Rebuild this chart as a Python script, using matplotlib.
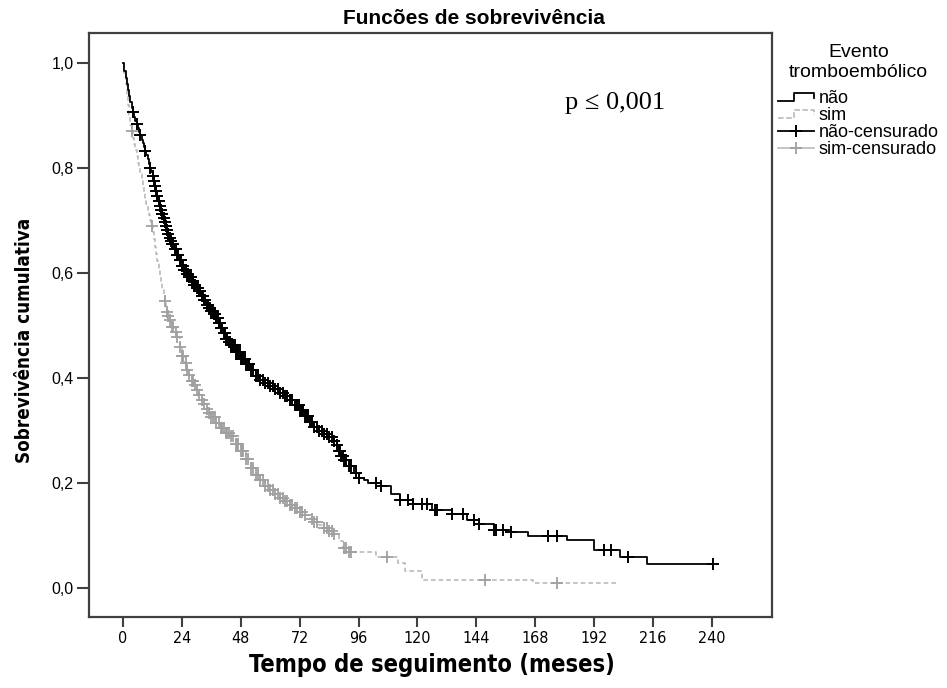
import numpy as np
import matplotlib
matplotlib.use("Agg")
import matplotlib.pyplot as plt
from matplotlib import font_manager as fm
from matplotlib.lines import Line2D
from matplotlib.legend_handler import HandlerBase

# curva "não" (tempo em meses, sobrevivência)
t_nao = [0, 0.5, 1, 1.5, 2, 2.5, 3, 3.5, 4, 4.5, 5, 5.5, 6, 6.5, 7, 7.5, 8,
         8.5, 9, 9.5, 10, 10.5, 11, 11.5, 12, 12.5, 13, 13.5, 14, 14.5, 15,
         15.5, 16, 16.5, 17, 17.5, 18, 18.5, 19, 19.5, 20, 21, 22, 23, 24, 25,
         26, 27, 28, 29, 30, 31, 32, 33, 34, 35, 36, 37, 38, 39, 40, 41, 42,
         43, 44, 46, 48, 50, 52, 54, 56, 58, 60, 62, 64, 66, 68, 70, 72, 74,
         76, 78, 80, 82, 84, 86, 87, 88, 89, 90, 92, 94, 96, 98, 100, 105, 109,
         113, 118, 126, 134, 140, 145, 151, 158, 165, 181, 192, 202.5, 213.4,
         240.5]
s_nao = [1.0, 0.985, 0.972, 0.96, 0.948, 0.937, 0.926, 0.915, 0.906, 0.898,
         0.89, 0.883, 0.876, 0.869, 0.862, 0.854, 0.847, 0.84, 0.832, 0.825,
         0.817, 0.808, 0.80, 0.792, 0.784, 0.775, 0.765, 0.756, 0.746, 0.737,
         0.728, 0.72, 0.712, 0.704, 0.697, 0.69, 0.682, 0.674, 0.666, 0.66,
         0.655, 0.645, 0.635, 0.625, 0.614, 0.606, 0.598, 0.592, 0.585, 0.578,
         0.572, 0.565, 0.557, 0.549, 0.540, 0.533, 0.527, 0.521, 0.514, 0.505,
         0.495, 0.485, 0.475, 0.468, 0.462, 0.450, 0.437, 0.426, 0.415, 0.404,
         0.397, 0.391, 0.385, 0.379, 0.372, 0.365, 0.358, 0.348, 0.339, 0.327,
         0.316, 0.307, 0.300, 0.294, 0.288, 0.280, 0.272, 0.262, 0.252, 0.243,
         0.232, 0.220, 0.210, 0.205, 0.200, 0.195, 0.180, 0.168, 0.160, 0.149,
         0.142, 0.130, 0.123, 0.110, 0.106, 0.100, 0.091, 0.072, 0.060, 0.045,
         0.045]

# curva "sim"
t_sim = [0, 0.5, 1, 1.5, 2, 2.5, 3, 3.5, 4, 4.5, 5, 5.5, 6, 6.5, 7, 7.5, 8,
         8.5, 9, 9.5, 10, 10.5, 11, 11.5, 12, 12.5, 13, 13.5, 14, 14.5, 15,
         15.5, 16, 16.5, 17, 17.5, 18, 18.5, 19, 19.5, 20, 21, 22, 23, 24, 25,
         26, 27, 28, 29, 30, 31, 32, 33, 34, 35, 36, 38, 40, 42, 44, 46, 48,
         50, 52, 54, 56, 58, 60, 62, 64, 66, 68, 70, 72, 74, 76, 78, 80, 82,
         84, 86, 88, 89.5, 92, 103, 112, 115, 122, 167, 201]
s_sim = [1.0, 0.98, 0.96, 0.94, 0.92, 0.90, 0.882, 0.87, 0.858, 0.846, 0.834,
         0.822, 0.81, 0.80, 0.788, 0.776, 0.765, 0.754, 0.742, 0.731, 0.72,
         0.71, 0.70, 0.69, 0.678, 0.664, 0.65, 0.636, 0.622, 0.61, 0.595,
         0.582, 0.57, 0.558, 0.546, 0.535, 0.525, 0.518, 0.511, 0.504, 0.497,
         0.488, 0.478, 0.46, 0.442, 0.428, 0.416, 0.405, 0.395, 0.386, 0.377,
         0.367, 0.358, 0.35, 0.342, 0.334, 0.325, 0.315, 0.305, 0.296, 0.29,
         0.275, 0.262, 0.245, 0.228, 0.215, 0.205, 0.195, 0.187, 0.18, 0.172,
         0.165, 0.158, 0.152, 0.145, 0.14, 0.132, 0.125, 0.12, 0.115, 0.108,
         0.103, 0.09, 0.076, 0.069, 0.060, 0.047, 0.033, 0.015, 0.009, 0.009]

# tempos censurados
c_nao = [4, 5.5, 7, 9, 11, 12, 12.5, 13, 13.5, 14, 14.5, 15, 15.5, 16, 16.5,
         17, 17.5, 18, 18.5, 19, 19.5, 20, 20.5, 21, 21.5, 22, 22.5, 23, 23.5,
         24, 24.5, 25, 25.5, 26, 26.5, 27, 27.5, 28, 28.5, 29, 29.5, 30, 30.5,
         31, 31.5, 32, 32.5, 33, 33.5, 34, 34.5, 35, 35.5, 36, 36.5, 37, 37.5,
         38, 38.5, 39, 39.5, 40, 40.5, 41, 41.5, 42, 42.5, 43, 43.5, 44, 44.5,
         45, 45.5, 46, 46.5, 47, 47.5, 48, 48.5, 49, 49.5, 50, 50.5, 51, 51.5,
         52, 53, 54, 55, 56, 57, 58, 59, 60, 61, 62, 63, 64, 65, 66, 67, 68,
         69, 70, 70.5, 71, 71.5, 72, 72.5, 73, 73.5, 74, 74.5, 75, 75.5, 76,
         76.5, 77, 78, 79, 80, 81, 82, 83, 84, 85, 86, 87, 88, 88.5, 89, 89.5,
         90, 90.5, 91, 92, 93, 95, 96, 103, 105, 113, 116, 118, 122, 124, 127,
         128, 134, 138.5, 143, 145, 151, 152, 155, 158, 173, 177, 196, 199,
         206, 240.5]
c_sim = [3.5, 11.7, 17, 18, 18.5, 19, 20, 20.5, 21.5, 22, 23, 24, 24.5, 25.5,
         26, 27, 28, 28.5, 29.5, 30, 31, 32, 33, 34, 35, 36, 36.5, 37.5, 38,
         39, 40, 40.5, 41, 42, 42.5, 43, 44, 45, 46, 46.5, 47, 48, 48.5, 49,
         50, 51, 52, 53, 54, 55, 56, 57, 58, 59, 60, 61, 62, 63, 64, 65, 66,
         67, 68, 69, 70, 71, 72, 73, 74, 77, 78, 79, 82, 83, 84, 85, 86, 90,
         91, 92, 93, 107.7, 147.5, 176.7]

x_ticks = [0, 24, 48, 72, 96, 120, 144, 168, 192, 216, 240]
y_ticks = [0.0, 0.2, 0.4, 0.6, 0.8, 1.0]

names = {f.name for f in fm.fontManager.ttflist}
if 'Liberation Sans Narrow' in names:
    narrow = dict(family='Liberation Sans Narrow')
else:
    narrow = dict(family='DejaVu Sans', fontstretch='condensed')
plt.rcParams['font.family'] = ['Liberation Sans', 'DejaVu Sans']


def step_at(t, s, c):
    t = np.asarray(t)
    s = np.asarray(s)
    idx = np.searchsorted(t, c, side='right') - 1
    return s[idx]


class StepHandler(HandlerBase):
    def create_artists(self, legend, orig_handle, xdescent, ydescent,
                       width, height, fontsize, trans):
        xs = np.array([0, 0.45, 0.45, 1.0, 1.0]) * width - xdescent
        ys = np.array([0.15, 0.15, 0.85, 0.85, 0.45]) * height - ydescent
        ln = Line2D(xs, ys, color=orig_handle.get_color(),
                    linestyle=orig_handle.get_linestyle(),
                    linewidth=orig_handle.get_linewidth())
        ln.set_transform(trans)
        return [ln]


fig = plt.figure(figsize=(9.47, 6.88), dpi=100)
ax = fig.add_axes([89 / 947, 1 - 617 / 688, (772 - 89) / 947, (617 - 33) / 688])

grey = '#b4b4b4'
grey_m = '#a0a0a0'

l_sim, = ax.plot(t_sim, s_sim, drawstyle='steps-post', color=grey,
                 linestyle=(0, (3, 2)), linewidth=1.1)
l_nao, = ax.plot(t_nao, s_nao, drawstyle='steps-post', color='black',
                 linewidth=1.3)
ax.plot(c_sim, step_at(t_sim, s_sim, c_sim), linestyle='none', marker='+',
        color=grey_m, markersize=8, markeredgewidth=1.3)
ax.plot(c_nao, step_at(t_nao, s_nao, c_nao), linestyle='none', marker='+',
        color='black', markersize=8, markeredgewidth=1.4)

ax.set_xlim(-13.9, 264.5)
ax.set_ylim(-0.055, 1.057)
ax.set_xticks(x_ticks)
ax.set_xticklabels([str(v) for v in x_ticks], fontsize=11.5, **narrow)
ax.set_yticks(y_ticks)
ax.set_yticklabels([f'{v:.1f}'.replace('.', ',') for v in y_ticks], fontsize=11.5)
ax.tick_params(axis='y', length=9, width=1.5, color='#404040', pad=2)
ax.tick_params(axis='x', length=7, width=1.5, color='#404040', pad=3)
for sp in ax.spines.values():
    sp.set_color('#404040')
    sp.set_linewidth(1.6)

fig.text(0.5, 1 - 18 / 688, 'Funcões de sobrevivência', ha='center', va='center',
         fontsize=15, fontweight='bold')
fig.text(432 / 947, 1 - 665 / 688, 'Tempo de seguimento (meses)', ha='center',
         va='center', fontsize=17, fontweight='bold', **narrow)
fig.text(25 / 947, 1 - 340 / 688, 'Sobrevivência cumulativa', ha='center',
         va='center', rotation=90, fontsize=13.5, fontweight='bold', **narrow)
fig.text(565 / 947, 1 - 103 / 688, 'p ≤ 0,001', ha='left', va='center',
         fontsize=19, family=['Liberation Serif', 'DejaVu Serif'])

h_nao_c = Line2D([], [], color='black', marker='+', markersize=9,
                 markeredgewidth=1.4, linewidth=1.3)
h_sim_c = Line2D([], [], color=grey, marker='+', markersize=9,
                 markeredgewidth=1.3, linewidth=1.1, markeredgecolor=grey_m)
leg = ax.legend([l_nao, l_sim, h_nao_c, h_sim_c],
                ['não', 'sim', 'não-censurado', 'sim-censurado'],
                handler_map={l_nao: StepHandler(), l_sim: StepHandler()},
                title='Evento\ntromboembólico', loc='upper left',
                bbox_to_anchor=(778 / 947, 1 - 44 / 688),
                bbox_transform=fig.transFigure, frameon=False, fontsize=13,
                title_fontsize=14, labelspacing=0.0, handlelength=2.0,
                handletextpad=0.25, borderpad=0, borderaxespad=0)
leg.get_title().set_multialignment('center')
leg._legend_box.sep = 7

fig.savefig('out.png', dpi=100)
